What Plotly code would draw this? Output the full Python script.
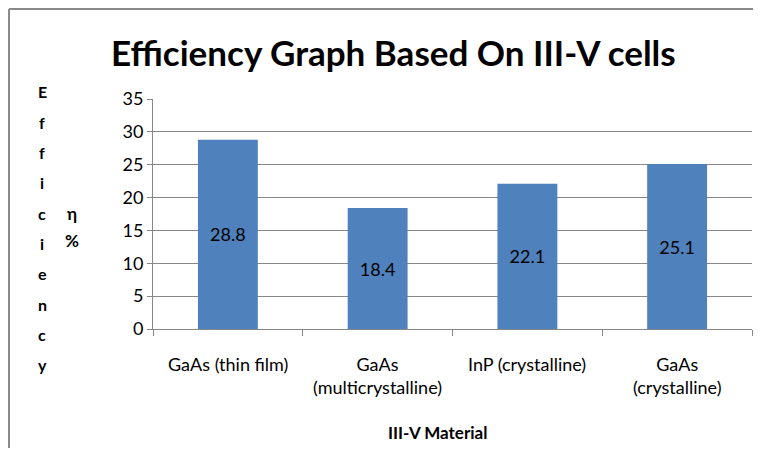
import plotly.graph_objects as go

categories = ["GaAs (thin film)", "GaAs<br>(multicrystalline)", "InP (crystalline)", "GaAs<br>(crystalline)"]
efficiency = [28.8, 18.4, 22.1, 25.1]
y_ticks = [0, 5, 10, 15, 20, 25, 30, 35]
title_text = "Efficiency Graph Based On III-V cells"
y_word = "Efficiency"
y_unit = ["η", "%"]
x_title = "III-V Material"

# the page puts the figure 8px in from the window's top-left corner
OFF = 8
W, H = 745, 440
L, R, T, B = 153 - OFF, 752 - OFF, 99 - OFF, 329 - OFF
FONT = "Lato, 'Open Sans', sans-serif"
GRID = "#878787"


def px(x):
    return (x - OFF - L) / (R - L)


def py(y):
    return (B - (y - OFF)) / (B - T)


fig = go.Figure(go.Bar(
    x=categories, y=efficiency, width=0.4,
    marker=dict(color="#4F81BD", line=dict(width=0)),
    text=[f"{v:.1f}" for v in efficiency],
    textposition="inside", insidetextanchor="middle",
    textfont=dict(family=FONT, size=18, color="#000000"),
    textangle=0,
))

annotations = []
# category labels, placed on the category axis below the plot
for c in categories:
    annotations.append(dict(text=c, x=c, xref="x", y=py(351), yref="paper",
                            showarrow=False, xanchor="center", yanchor="top",
                            font=dict(family=FONT, size=18, color="#000000")))
for i, ch in enumerate(y_word):
    annotations.append(dict(text=ch, x=px(42), y=py(92 + i * 30.3), xref="paper", yref="paper",
                            showarrow=False, xanchor="center", yanchor="middle",
                            font=dict(family=FONT, size=16, color="#000000", weight="bold")))
for i, ch in enumerate(y_unit):
    annotations.append(dict(text=ch, x=px(72), y=py(213 + i * 27), xref="paper", yref="paper",
                            showarrow=False, xanchor="center", yanchor="middle",
                            font=dict(family=FONT, size=17, color="#000000", weight="bold")))
annotations.append(dict(text=x_title, x=px(437), y=py(432), xref="paper", yref="paper",
                        showarrow=False, xanchor="center", yanchor="middle",
                        font=dict(family=FONT, size=17, color="#000000", weight="bold")))
annotations.append(dict(text=title_text, x=px(393), y=py(52), xref="paper", yref="paper",
                        showarrow=False, xanchor="center", yanchor="middle",
                        font=dict(family=FONT, size=35, color="#000000", weight="bold")))

border = dict(color="#8a8a8a", width=2)
shapes = [
    dict(type="line", xref="paper", yref="paper", x0=px(9), x1=px(9), y0=py(9), y1=py(800), line=border),
    dict(type="line", xref="paper", yref="paper", x0=px(9), x1=px(900), y0=py(9), y1=py(9), line=border),
]

fig.update_layout(
    width=W, height=H,
    margin=dict(l=L, r=W - R, t=T, b=H - B, pad=0),
    paper_bgcolor="white", plot_bgcolor="white",
    showlegend=False,
    annotations=annotations,
    shapes=shapes,
    bargap=0.6,
    xaxis=dict(type="category", showline=True, linecolor=GRID, linewidth=1,
               ticks="outside", tickson="boundaries", ticklen=6, tickcolor=GRID, tickwidth=1,
               showticklabels=False, showgrid=False),
    yaxis=dict(range=[0, 35], tickvals=y_ticks, showline=True, linecolor=GRID, linewidth=1,
               ticks="outside", ticklen=5, tickcolor=GRID, tickwidth=1, gridcolor=GRID, gridwidth=1,
               ticksuffix="\u2002\u2002",
               tickfont=dict(family=FONT, size=18, color="#000000"), zeroline=False),
)

fig.write_html("out.html")
